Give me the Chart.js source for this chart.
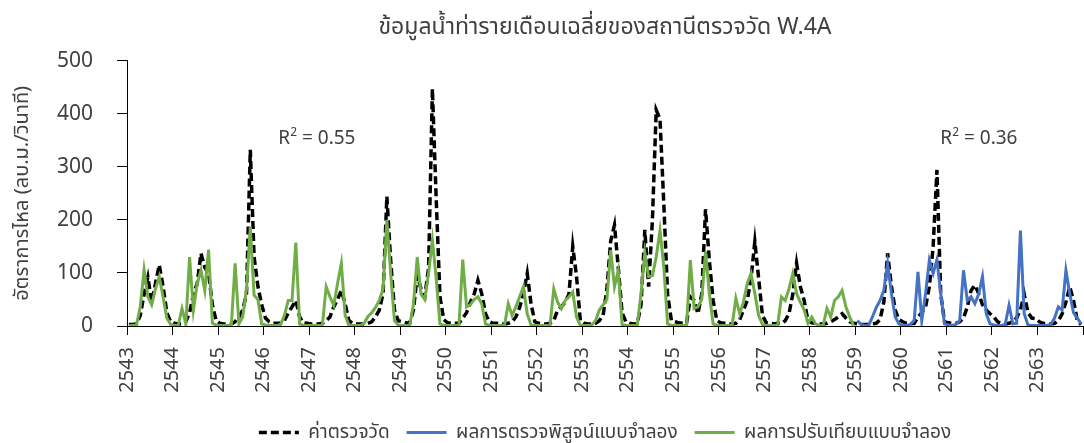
<!DOCTYPE html>
<html>
<head>
<meta charset="utf-8">
<script src="https://cdn.jsdelivr.net/npm/chart.js@4"></script>
<style>
  html, body { margin: 0; padding: 0; background: #fff; }
</style>
</head>
<body>
<canvas id="flowChart" width="1084" height="443"></canvas>
<script>
// year labels, one per water year (12 monthly points each)
const yearLabels = ['2543', '2544', '2545', '2546', '2547', '2548', '2549', '2550', '2551', '2552', '2553',
  '2554', '2555', '2556', '2557', '2558', '2559', '2560', '2561', '2562', '2563'];

// observed monthly mean flow (m3/s), 2543-2563
const observed = [
  3, 3, 4, 20, 60, 92, 45, 80, 115, 75, 25, 8,
  5, 4, 4, 8, 25, 60, 80, 137, 110, 100, 40, 10,
  5, 4, 4, 4, 8, 17, 30, 61, 332, 130, 75, 40,
  15, 8, 5, 5, 5, 10, 25, 36, 48, 17, 6, 5,
  4, 4, 4, 5, 10, 17, 36, 50, 67, 42, 10, 5,
  4, 4, 4, 5, 8, 17, 30, 61, 244, 124, 30, 10,
  8, 6, 5, 30, 95, 70, 55, 110, 447, 240, 55, 12,
  6, 5, 5, 5, 15, 25, 45, 60, 86, 61, 23, 8,
  5, 5, 4, 4, 5, 8, 17, 35, 61, 99, 42, 8,
  5, 4, 4, 5, 10, 30, 36, 45, 60, 150, 93, 10,
  5, 4, 4, 5, 10, 20, 70, 160, 190, 110, 25, 8,
  5, 4, 4, 40, 181, 74, 200, 407, 390, 230, 60, 10,
  8, 6, 5, 5, 55, 48, 23, 60, 220, 124, 48, 10,
  6, 5, 4, 4, 5, 12, 30, 48, 90, 159, 90, 20,
  6, 5, 4, 5, 5, 10, 23, 60, 118, 74, 48, 10,
  6, 5, 4, 4, 5, 8, 12, 17, 23, 15, 8, 5,
  4, 3, 3, 3, 4, 5, 12, 45, 137, 75, 30, 12,
  8, 5, 4, 5, 17, 25, 36, 74, 150, 294, 60, 8,
  6, 5, 5, 8, 15, 36, 67, 77, 61, 40, 30, 23,
  17, 8, 5, 4, 5, 8, 15, 30, 60, 25, 15, 14,
  8, 5, 4, 4, 5, 10, 23, 45, 74, 48, 10, 3
];

// calibration run, 2543-2558
const calibration = [
  1, 1, 2, 36, 106, 55, 40, 70, 93, 55, 15, 3,
  1, 1, 33, 4, 130, 30, 80, 105, 67, 144, 5, 2,
  1, 1, 1, 1, 118, 4, 17, 70, 187, 58, 50, 4,
  2, 1, 1, 1, 3, 20, 48, 48, 157, 4, 1, 1,
  1, 1, 1, 1, 74, 55, 39, 80, 118, 20, 1, 1,
  1, 1, 5, 18, 25, 35, 48, 70, 200, 100, 10, 2,
  1, 1, 1, 40, 130, 60, 50, 100, 162, 90, 4, 1,
  1, 1, 1, 1, 125, 36, 40, 50, 55, 42, 4, 1,
  1, 1, 1, 1, 42, 20, 36, 55, 74, 23, 2, 1,
  1, 1, 1, 1, 70, 45, 33, 48, 55, 64, 17, 1,
  1, 1, 2, 10, 30, 40, 50, 143, 74, 105, 3, 1,
  1, 1, 1, 61, 138, 93, 95, 130, 180, 112, 4, 1,
  1, 1, 1, 1, 124, 33, 36, 50, 140, 61, 4, 1,
  1, 1, 1, 1, 52, 23, 45, 80, 99, 61, 20, 3,
  1, 1, 1, 1, 55, 48, 70, 99, 61, 45, 30, 5,
  17, 4, 1, 1, 33, 17, 48, 55, 67, 36, 17, 1
];

// verification run, 2559-2563
const verification = [
  10, 3, 1, 1, 17, 35, 48, 67, 118, 61, 17, 4,
  2, 1, 3, 10, 102, 10, 61, 124, 99, 125, 61, 4,
  2, 1, 3, 10, 105, 48, 55, 42, 60, 93, 23, 4,
  2, 1, 1, 3, 39, 4, 5, 180, 23, 2, 1, 1,
  1, 1, 1, 3, 15, 36, 30, 105, 61, 25, 15, 4
];

const r2Notes = [
  { text: '0.55', month: 39.9, value: 342 },
  { text: '0.36', month: 214.4, value: 342 }
];

const totalMonths = yearLabels.length * 12;
const verifStart = calibration.length;
const textColor = '#404040';

Chart.defaults.font.family = "'Noto Sans', 'Noto Sans Thai', 'Leelawadee UI', sans-serif";
Chart.defaults.color = textColor;

// R² text drawn on top of the lines
const r2Plugin = {
  id: 'r2Text',
  afterDatasetsDraw(chart) {
    const { ctx, scales: { x, y } } = chart;
    const fam = Chart.defaults.font.family;
    ctx.save();
    ctx.fillStyle = textColor;
    ctx.textBaseline = 'alphabetic';
    r2Notes.forEach(n => {
      let px = x.getPixelForValue(n.month);
      const py = y.getPixelForValue(n.value);
      ctx.font = '19px ' + fam;
      ctx.fillText('R', px, py);
      px += ctx.measureText('R').width;
      ctx.font = '12px ' + fam;
      ctx.fillText('2', px, py - 8);
      px += ctx.measureText('2').width;
      ctx.font = '19px ' + fam;
      ctx.fillText(' = ' + n.text, px, py);
    });
    ctx.restore();
  }
};

new Chart(document.getElementById('flowChart'), {
  type: 'line',
  data: {
    datasets: [
      {
        label: 'ค่าตรวจวัด',
        data: observed.map((v, i) => ({ x: i + 0.5, y: v })),
        borderColor: '#000000',
        borderWidth: 3.5,
        borderDash: [8, 4],
        pointRadius: 0,
        tension: 0,
        order: 2
      },
      {
        label: 'ผลการตรวจพิสูจน์แบบจำลอง',
        data: verification.map((v, i) => ({ x: verifStart + i + 0.5, y: v })),
        borderColor: '#4472C4',
        borderWidth: 3,
        pointRadius: 0,
        tension: 0,
        order: 1
      },
      {
        label: 'ผลการปรับเทียบแบบจำลอง',
        data: calibration.map((v, i) => ({ x: i + 0.5, y: v })),
        borderColor: '#70AD47',
        borderWidth: 3,
        pointRadius: 0,
        tension: 0,
        order: 0
      }
    ]
  },
  options: {
    responsive: false,
    animation: false,
    layout: { padding: { left: 0, right: 1, top: 0, bottom: 0 } },
    scales: {
      x: {
        type: 'linear',
        min: 0,
        max: totalMonths,
        afterFit: scale => {
          // rotated labels should not shrink the plot sideways
          scale.paddingLeft = 0;
          scale.paddingRight = 0;
          scale.height = 80;
        },
        ticks: {
          stepSize: 12,
          autoSkip: false,
          minRotation: 90,
          maxRotation: 90,
          padding: 12,
          font: { size: 20 },
          callback: v => (v < totalMonths ? yearLabels[v / 12] : '')
        },
        grid: { drawOnChartArea: false, drawTicks: true, tickLength: 9, color: '#000' },
        border: { color: '#000', width: 1 }
      },
      y: {
        min: 0,
        max: 500,
        afterFit: scale => {
          scale.width = 127;
        },
        ticks: { stepSize: 100, padding: 24, font: { size: 21 } },
        grid: { drawOnChartArea: false, drawTicks: true, tickLength: 10, color: '#000' },
        border: { color: '#000', width: 1 },
        title: {
          display: true,
          text: 'อัตราการไหล (ลบ.ม./วินาที)',
          font: { size: 20 },
          padding: { top: 10, bottom: 20 }
        }
      }
    },
    plugins: {
      title: {
        display: true,
        text: 'ข้อมูลน้ำท่ารายเดือนเฉลี่ยของสถานีตรวจวัด W.4A',
        fullSize: false,
        color: textColor,
        font: { size: 23, weight: 'normal' },
        padding: { top: 14, bottom: 19 }
      },
      legend: {
        position: 'bottom',
        fullSize: false,
        maxHeight: 37,
        labels: {
          boxWidth: 40,
          boxHeight: 0,
          padding: 17,
          font: { size: 19 },
          sort: (a, b) => a.datasetIndex - b.datasetIndex
        }
      },
      tooltip: { enabled: false }
    }
  },
  plugins: [r2Plugin]
});
</script>
</body>
</html>
